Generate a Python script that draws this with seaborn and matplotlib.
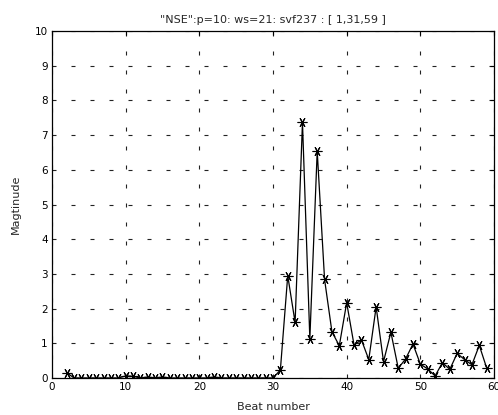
import matplotlib
matplotlib.use("Agg")
import matplotlib.pyplot as plt
import seaborn as sns
import pandas as pd

sns.set_style("white")
plt.rcParams["font.family"] = ["DejaVu Sans"]

beats = list(range(2, 60))
magnitude = [
    0.15, 0.0, 0.0, 0.0, 0.0, 0.0, 0.0, 0.0, 0.06, 0.05,    # beats 2-11
    0.0, 0.03, 0.0, 0.03, 0.0, 0.0, 0.0, 0.0, 0.0, 0.0,      # beats 12-21
    0.03, 0.0, 0.0, 0.0, 0.0, 0.0, 0.0, 0.0, 0.0,            # beats 22-30
    0.23, 2.95, 1.6, 7.37, 1.13, 6.54, 2.84, 1.33, 0.93,     # beats 31-39
    2.17, 0.95, 1.1, 0.53, 2.05, 0.47, 1.32, 0.28, 0.55,     # beats 40-48
    0.98, 0.4, 0.26, 0.06, 0.44, 0.25, 0.71, 0.53, 0.38,     # beats 49-57
    0.94, 0.29,                                              # beats 58-59
]
title = '"NSE":p=10: ws=21: svf237 : [ 1,31,59 ]'

df = pd.DataFrame({"beat": beats, "mag": magnitude})

fig = plt.figure(figsize=(4.98, 4.15), dpi=100)
ax = fig.add_axes([0.1044, 0.0892, 0.8876, 0.8358])

sns.lineplot(data=df, x="beat", y="mag", ax=ax, color="black", linewidth=0.9,
             marker=(6, 2, 90), markersize=7, markeredgewidth=0.8,
             markeredgecolor="black")

ax.set_xlim(0, 60)
ax.set_ylim(0, 10)
ax.set_xticks(range(0, 61, 10))
ax.set_yticks(range(0, 11, 1))
ax.grid(True, linestyle=(0, (3.6, 13.5)), color="#222222", linewidth=0.8)
ax.tick_params(direction="in", length=3, labelsize=7.5, colors="black",
               top=True, right=True, pad=3)
for s in ax.spines.values():
    s.set_visible(True)
    s.set_color("black")
    s.set_linewidth(0.9)

ax.set_title(title, fontsize=8, pad=6)
ax.set_xlabel("Beat number", fontsize=8, labelpad=7)
ax.set_ylabel("Magtinude", fontsize=8, labelpad=10)

fig.savefig("out.png", dpi=100)
